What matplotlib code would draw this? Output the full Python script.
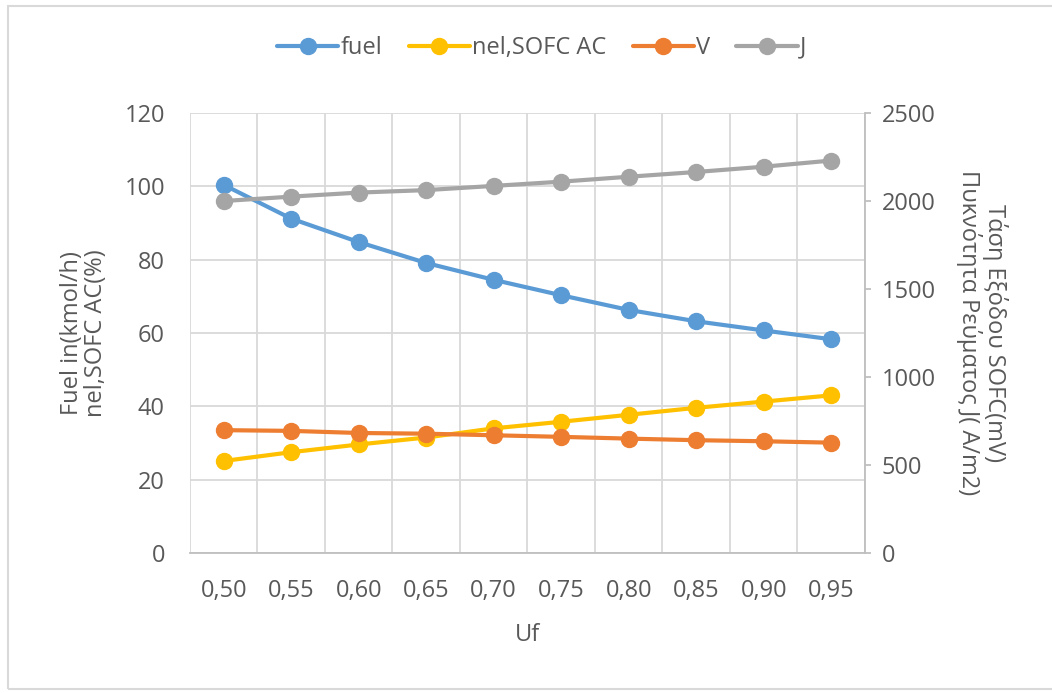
import numpy as np
import matplotlib
matplotlib.use("Agg")
import matplotlib.pyplot as plt
from matplotlib.patches import Rectangle

plt.rcParams['font.family'] = ['Open Sans', 'DejaVu Sans']

uf_labels = ['0,50', '0,55', '0,60', '0,65', '0,70', '0,75', '0,80', '0,85', '0,90', '0,95']
fuel = [100.4, 91.2, 84.8, 79.1, 74.5, 70.3, 66.3, 63.2, 60.7, 58.3]
nel_ac = [25.1, 27.5, 29.6, 31.5, 34.0, 35.8, 37.7, 39.6, 41.3, 43.0]
voltage = [698, 694, 682, 678, 669, 660, 650, 641, 635, 627]
current_density = [2000, 2025, 2048, 2062, 2086, 2110, 2138, 2165, 2195, 2230]

text_c = '#595959'
grid_c = '#D9D9D9'
axis_c = '#BFBFBF'

fig = plt.figure(figsize=(10.52, 6.93), dpi=100)
ax = fig.add_axes([0.1806, 0.2020, 0.6416, 0.6349])
ax2 = ax.twinx()

x = np.arange(len(uf_labels))
mk = dict(marker='o', markersize=11.5, linewidth=3, solid_capstyle='round')
l1, = ax.plot(x, fuel, color='#5B9BD5', label='fuel', **mk)
l2, = ax.plot(x, nel_ac, color='#FFC000', label='nel,SOFC AC', **mk)
l3, = ax2.plot(x, voltage, color='#ED7D31', label='V', **mk)
l4, = ax2.plot(x, current_density, color='#A5A5A5', label='J', **mk)

ax.set_xlim(-0.5, len(uf_labels) - 0.5)
ax.set_ylim(0, 120)
ax.set_yticks(np.arange(0, 121, 20))
ax2.set_ylim(0, 2500)
ax2.set_yticks(np.arange(0, 2501, 500))

ax.set_xticks(x)
ax.set_xticklabels(uf_labels)
ax.set_xticks(np.arange(-0.5, len(uf_labels), 1), minor=True)
ax.grid(True, which='minor', axis='x', color=grid_c, linewidth=1.3)
ax.grid(True, which='major', axis='y', color=grid_c, linewidth=1.3)
ax.set_axisbelow(True)

for s in ['top', 'left', 'right']:
    ax.spines[s].set_visible(False)
ax.spines['bottom'].set_color(axis_c)
ax.spines['bottom'].set_linewidth(1.3)
for s in ['top', 'left', 'bottom']:
    ax2.spines[s].set_visible(False)
ax2.spines['right'].set_color(axis_c)
ax2.spines['right'].set_linewidth(1.3)

ax.tick_params(axis='x', which='both', length=0, pad=19, labelsize=17, labelcolor=text_c)
ax.tick_params(axis='y', length=0, pad=18, labelsize=17, labelcolor=text_c)
ax2.tick_params(axis='y', length=4, width=1.3, color=axis_c, pad=8,
                labelsize=17, labelcolor=text_c)

ax.set_xlabel('Uf', fontsize=17, color=text_c, labelpad=14)
ax.set_ylabel('Fuel in(kmol/h)\nnel,SOFC AC(%)', fontsize=17, color=text_c,
              labelpad=12, linespacing=1.0)
ax2.set_ylabel('Τάση Εξόδου SOFC(mV)\nΠυκνότητα Ρεύματος J( A/m2)', fontsize=17,
               color=text_c, rotation=270, labelpad=52, linespacing=1.0)

fig.legend(handles=[l1, l2, l3, l4], loc='center', bbox_to_anchor=(0.515, 0.931),
           ncol=4, frameon=False, fontsize=17, handlelength=2.6, handletextpad=0.1,
           columnspacing=1.1, labelcolor=text_c)

# light chart-area border
fig.patches.append(Rectangle((0.008, 0.006), 1.2, 0.985, transform=fig.transFigure,
                             fill=False, edgecolor='#D9D9D9', linewidth=1.5))

fig.savefig('out.png', dpi=100)
